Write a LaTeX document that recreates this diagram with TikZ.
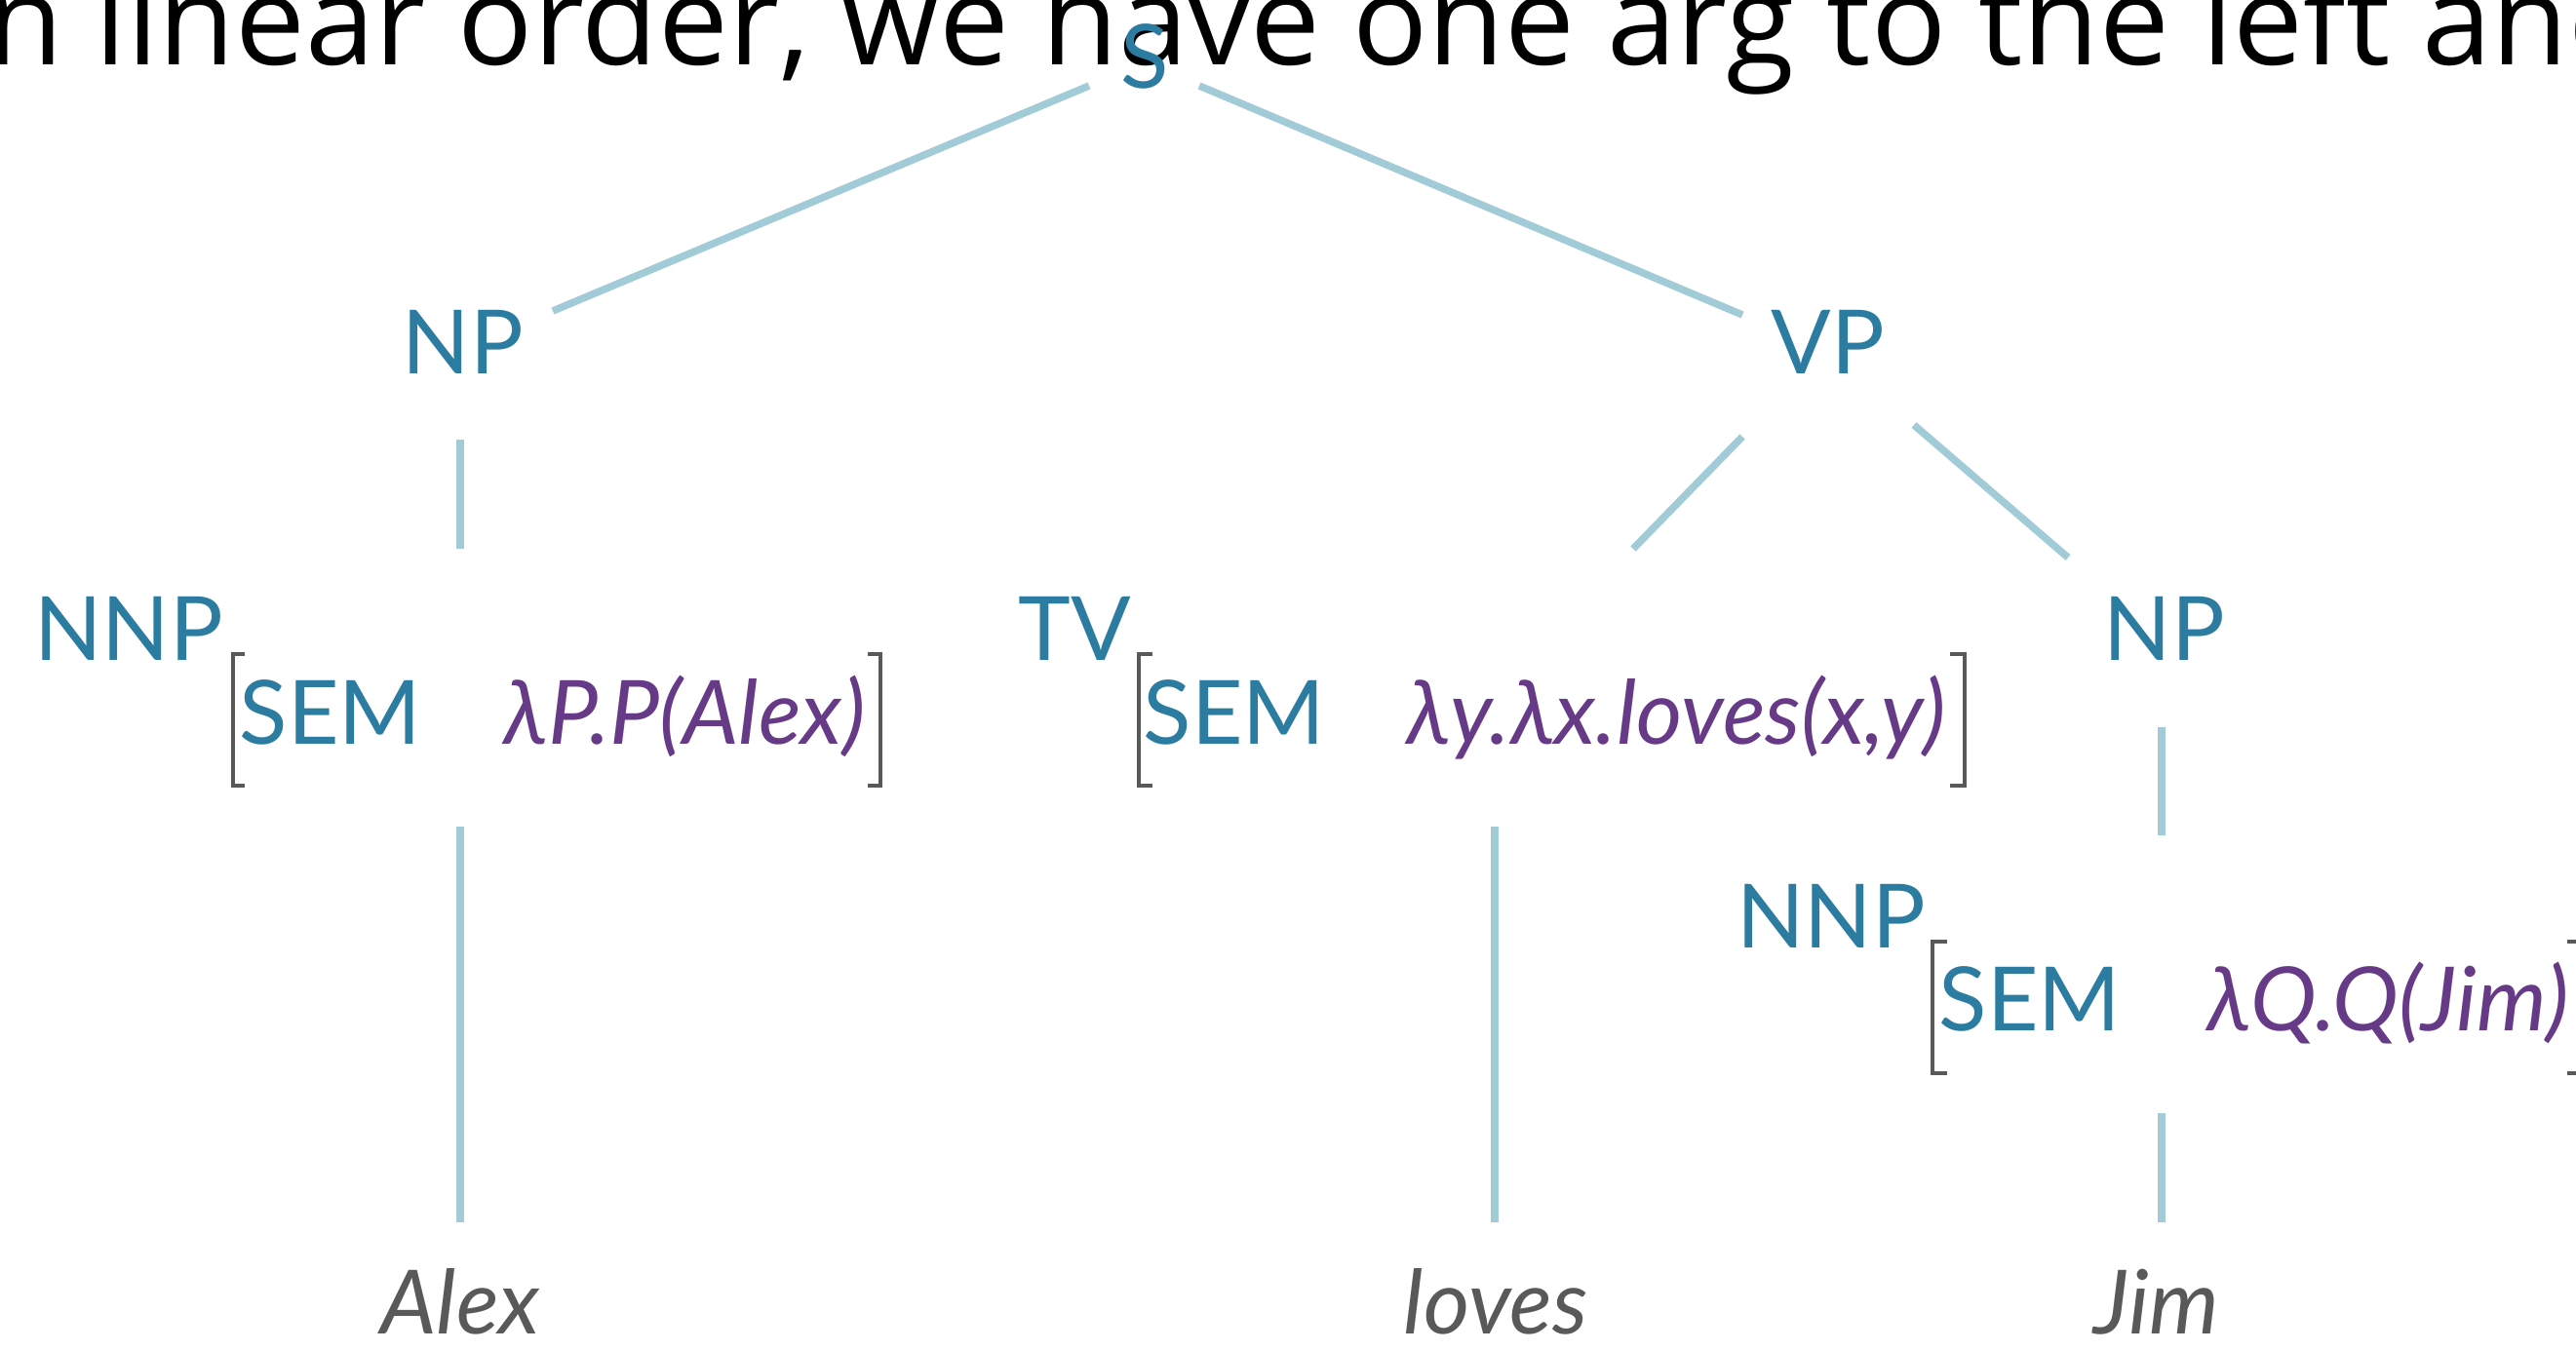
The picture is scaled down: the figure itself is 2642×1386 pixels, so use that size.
\documentclass[tikz,border=0pt]{standalone}
\usepackage{fontspec}
\newfontfamily\titlefont{Open Sans}
\newfontfamily\treefont{Lato}
\definecolor{teal}{HTML}{2C7BA0}
\definecolor{purp}{HTML}{663A87}
\definecolor{linec}{HTML}{A2CBD8}
\definecolor{gry}{HTML}{595959}
\begin{document}
\begin{tikzpicture}[x=1pt,y=-1pt,
  titletext/.style={text=black, font=\titlefont\fontsize{128}{140}\selectfont, anchor=base west, inner sep=0pt},
  lab/.style={text=teal, font=\treefont\fontsize{91}{100}\selectfont, anchor=base, inner sep=0pt},
  semval/.style={text=purp, font=\treefont\itshape\fontsize{91}{100}\selectfont, anchor=base, inner sep=0pt},
  leaf/.style={text=gry, font=\treefont\itshape\fontsize{91}{100}\selectfont, anchor=base, inner sep=0pt},
  edge/.style={draw=linec, line width=7.5pt},
  brk/.style={draw=gry, line width=4.5pt}]
\useasboundingbox (0,0) rectangle (2642,1386);
\clip (0,0) rectangle (2642,1386);
\fill[white] (0,0) rectangle (2642,1386);
% title (cut off)
\node[titletext] (title) at (-14,67) {n linear order, we have one arg to the left and};
% tree labels
\node[lab] (S) at (1174,91) {S};
\node[lab] (NP1) at (475,383) {NP};
\node[lab] (VP) at (1875,383) {VP};
\node[lab] (NNP1) at (132,677) {NNP};
\node[lab] (TV) at (1102,677) {TV};
\node[lab] (NP2) at (2220,677) {NP};
\node[lab] (NNP2) at (1878,972) {NNP};
% AVMs
\node[lab] (sem1) at (339,763) {SEM};
\node[semval] (val1) at (702,763) {λP.P(Alex)};
\node[lab] (sem2) at (1266,763) {SEM};
\node[semval] (val2) at (1719,763) {λy.λx.loves(x,y)};
\node[lab] (sem3) at (2082,1057) {SEM};
\node[semval] (val3) at (2449,1057) {λQ.Q(Jim)};
% brackets
\draw[brk] (251,671) -- (239,671) -- (239,806) -- (251,806);
\draw[brk] (890,671) -- (903,671) -- (903,806) -- (890,806);
\draw[brk] (1182,671) -- (1168,671) -- (1168,806) -- (1182,806);
\draw[brk] (2000,671) -- (2015,671) -- (2015,806) -- (2000,806);
\draw[brk] (1997,966) -- (1982,966) -- (1982,1101) -- (1997,1101);
\draw[brk] (2633,966) -- (2646,966) -- (2646,1101) -- (2633,1101);
% leaves
\node[leaf] (alex) at (472,1368) {Alex};
\node[leaf] (loves) at (1534,1368) {loves};
\node[leaf] (jim) at (2212,1368) {Jim};
% connector end points
\coordinate (S-l) at (1117,88);
\coordinate (NP1-t) at (567,319);
\coordinate (S-r) at (1230,88);
\coordinate (VP-t) at (1787,323);
\coordinate (NP1-b) at (472,451);
\coordinate (NNP1-t) at (472,563);
\coordinate (VP-bl) at (1787,448);
\coordinate (TV-t) at (1675,563);
\coordinate (VP-br) at (1963,436);
\coordinate (NP2-t) at (2121,572);
\coordinate (NNP1-b) at (472,848);
\coordinate (alex-t) at (472,1254);
\coordinate (TV-b) at (1533,848);
\coordinate (loves-t) at (1533,1254);
\coordinate (NP2-b) at (2217,746);
\coordinate (NNP2-t) at (2217,857);
\coordinate (NNP2-b) at (2217,1142);
\coordinate (jim-t) at (2217,1254);
% connectors
\draw[edge] (S-l) -- (NP1-t);
\draw[edge] (S-r) -- (VP-t);
\draw[edge] (NP1-b) -- (NNP1-t);
\draw[edge] (VP-bl) -- (TV-t);
\draw[edge] (VP-br) -- (NP2-t);
\draw[edge] (NNP1-b) -- (alex-t);
\draw[edge] (TV-b) -- (loves-t);
\draw[edge] (NP2-b) -- (NNP2-t);
\draw[edge] (NNP2-b) -- (jim-t);
\end{tikzpicture}
\end{document}
